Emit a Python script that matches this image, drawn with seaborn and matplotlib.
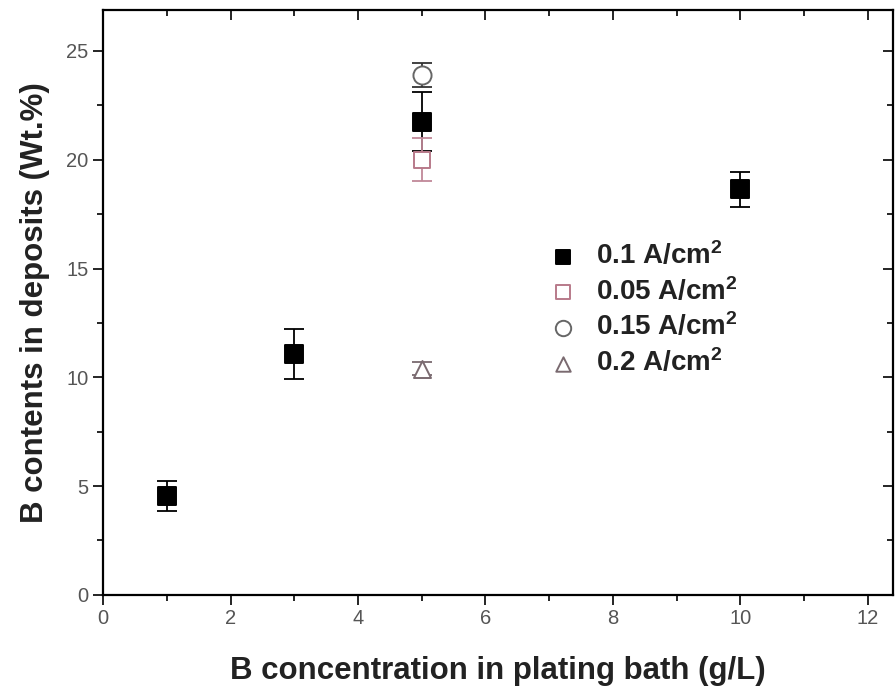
import matplotlib
matplotlib.use("Agg")
import matplotlib.pyplot as plt
from matplotlib.ticker import MultipleLocator
import seaborn as sns
import pandas as pd

# data
series = ["0.1 A/cm$^2$", "0.05 A/cm$^2$", "0.15 A/cm$^2$", "0.2 A/cm$^2$"]
x_01 = [1, 3, 5, 10]
y_01 = [4.55, 11.05, 21.75, 18.65]
e_01 = [0.7, 1.15, 1.35, 0.8]
x_005 = [5]
y_005 = [20.0]
e_005 = [1.0]
x_015 = [5]
y_015 = [23.9]
e_015 = [0.55]
x_02 = [5]
y_02 = [10.4]
e_02 = [0.3]

xs = [x_01, x_005, x_015, x_02]
ys = [y_01, y_005, y_015, y_02]
es = [e_01, e_005, e_015, e_02]

rows = []
for name, xx, yy, ee in zip(series, xs, ys, es):
    for a, b, c in zip(xx, yy, ee):
        rows.append({"conc": a, "B": b, "err": c, "series": name})
df = pd.DataFrame(rows)

sns.set_theme(style="white")
plt.rcParams['font.family'] = ['Liberation Sans', 'DejaVu Sans']
plt.rcParams['mathtext.default'] = 'regular'

fig = plt.figure(figsize=(8.96, 6.9), dpi=100)
ax = fig.add_axes([0.115, 0.138, 0.882, 0.848])

markers = {series[0]: "s", series[1]: "s", series[2]: "o", series[3]: "^"}
faces = {series[0]: "black", series[1]: "white", series[2]: "white", series[3]: "white"}
edges = {series[0]: "black", series[1]: "#b87a8a", series[2]: "#666666", series[3]: "#7a6a70"}
ecolors = {series[0]: "black", series[1]: "#c08898", series[2]: "#333333", series[3]: "#7a6a70"}
sizes = {series[0]: 160, series[1]: 140, series[2]: 170, series[3]: 150}

for name in series:
    sub = df[df["series"] == name]
    ax.errorbar(sub["conc"], sub["B"], yerr=sub["err"], fmt="none",
                ecolor=ecolors[name], elinewidth=1.3, capsize=7, capthick=1.3, zorder=2)
    sns.scatterplot(data=sub, x="conc", y="B", marker=markers[name], s=sizes[name],
                    color=faces[name], edgecolor=edges[name], linewidth=1.4,
                    label=name, ax=ax, zorder=3)

ax.set_xlim(0, 12.4)
ax.set_ylim(0, 26.9)
ax.xaxis.set_major_locator(MultipleLocator(2))
ax.xaxis.set_minor_locator(MultipleLocator(1))
ax.yaxis.set_major_locator(MultipleLocator(5))
ax.yaxis.set_minor_locator(MultipleLocator(2.5))

ax.tick_params(which="both", direction="out", bottom=True, left=True, colors="black",
               labelcolor="#555555", labelsize=14.5, width=1.2)
ax.tick_params(which="major", length=7)
ax.tick_params(which="minor", length=4)
ax.tick_params(which="both", top=True, right=True)
for t in ax.xaxis.get_ticklines(minor=False)[1::2] + ax.xaxis.get_ticklines(minor=True)[1::2]:
    t.set_marker(3)
for t in ax.yaxis.get_ticklines(minor=False)[1::2] + ax.yaxis.get_ticklines(minor=True)[1::2]:
    t.set_marker(0)

for s in ax.spines.values():
    s.set_color("black")
    s.set_linewidth(1.6)

ax.set_xlabel("B concentration in plating bath (g/L)", fontsize=22.5, fontweight="bold",
              color="#222222", labelpad=20)
ax.set_ylabel("B contents in deposits (Wt.%)", fontsize=22.5, fontweight="bold",
              color="#222222", labelpad=12)

leg = ax.legend(loc="upper left", bbox_to_anchor=(0.522, 0.647), frameon=False,
                prop={"weight": "bold", "size": 20}, handletextpad=0.4,
                handlelength=1.6, labelspacing=0.25, markerscale=0.85)
for t in leg.get_texts():
    t.set_color("#222222")

fig.savefig("out.png", dpi=100)
